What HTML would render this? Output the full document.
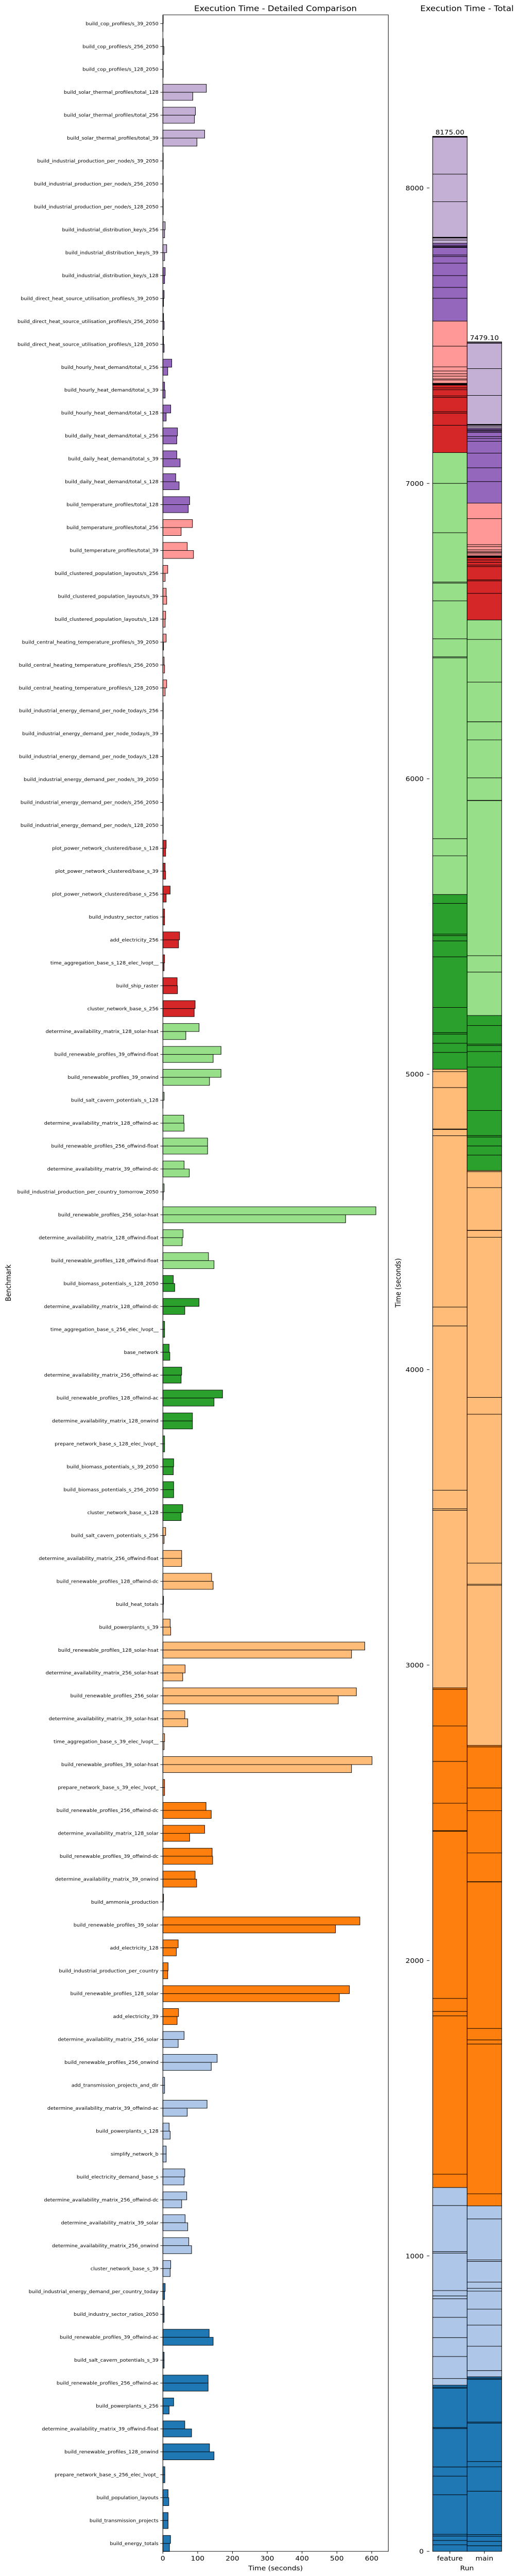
<!DOCTYPE html>
<html>
<head>
<meta charset="utf-8">
<style>
html,body{margin:0;padding:0;background:#fff;width:100%;height:100%;overflow:hidden;}
svg{display:block;position:fixed;left:0;top:0;width:100vw;height:100vh;font-family:"DejaVu Sans","Liberation Sans",sans-serif;}
</style>
</head>
<body>
<svg id="chart" viewBox="0 0 1008 5540" preserveAspectRatio="none" xmlns="http://www.w3.org/2000/svg">
<defs><clipPath id="pageclip"><rect x="0" y="0" width="1008" height="5540"/></clipPath></defs>
<g clip-path="url(#pageclip)">
<rect x="0" y="0" width="1008" height="5540" fill="#fff"/>
<text x="535" y="24" font-size="16.5" text-anchor="middle" fill="#000">Execution Time - Detailed Comparison</text>
<text x="907" y="24" font-size="16.5" text-anchor="middle" fill="#000">Execution Time - Total</text>
<g id="left"></g>
<g id="right"></g>
</g>
</svg>
<script>
const categories = [
"build_cop_profiles/s_39_2050","build_cop_profiles/s_256_2050","build_cop_profiles/s_128_2050",
"build_solar_thermal_profiles/total_128","build_solar_thermal_profiles/total_256","build_solar_thermal_profiles/total_39",
"build_industrial_production_per_node/s_39_2050","build_industrial_production_per_node/s_256_2050","build_industrial_production_per_node/s_128_2050",
"build_industrial_distribution_key/s_256","build_industrial_distribution_key/s_39","build_industrial_distribution_key/s_128",
"build_direct_heat_source_utilisation_profiles/s_39_2050","build_direct_heat_source_utilisation_profiles/s_256_2050","build_direct_heat_source_utilisation_profiles/s_128_2050",
"build_hourly_heat_demand/total_s_256","build_hourly_heat_demand/total_s_39","build_hourly_heat_demand/total_s_128",
"build_daily_heat_demand/total_s_256","build_daily_heat_demand/total_s_39","build_daily_heat_demand/total_s_128",
"build_temperature_profiles/total_128","build_temperature_profiles/total_256","build_temperature_profiles/total_39",
"build_clustered_population_layouts/s_256","build_clustered_population_layouts/s_39","build_clustered_population_layouts/s_128",
"build_central_heating_temperature_profiles/s_39_2050","build_central_heating_temperature_profiles/s_256_2050","build_central_heating_temperature_profiles/s_128_2050",
"build_industrial_energy_demand_per_node_today/s_256","build_industrial_energy_demand_per_node_today/s_39","build_industrial_energy_demand_per_node_today/s_128",
"build_industrial_energy_demand_per_node/s_39_2050","build_industrial_energy_demand_per_node/s_256_2050","build_industrial_energy_demand_per_node/s_128_2050",
"plot_power_network_clustered/base_s_128","plot_power_network_clustered/base_s_39","plot_power_network_clustered/base_s_256",
"build_industry_sector_ratios","add_electricity_256","time_aggregation_base_s_128_elec_lvopt__",
"build_ship_raster","cluster_network_base_s_256","determine_availability_matrix_128_solar-hsat",
"build_renewable_profiles_39_offwind-float","build_renewable_profiles_39_onwind","build_salt_cavern_potentials_s_128",
"determine_availability_matrix_128_offwind-ac","build_renewable_profiles_256_offwind-float","determine_availability_matrix_39_offwind-dc",
"build_industrial_production_per_country_tomorrow_2050","build_renewable_profiles_256_solar-hsat","determine_availability_matrix_128_offwind-float",
"build_renewable_profiles_128_offwind-float","build_biomass_potentials_s_128_2050","determine_availability_matrix_128_offwind-dc",
"time_aggregation_base_s_256_elec_lvopt__","base_network","determine_availability_matrix_256_offwind-ac",
"build_renewable_profiles_128_offwind-ac","determine_availability_matrix_128_onwind","prepare_network_base_s_128_elec_lvopt_",
"build_biomass_potentials_s_39_2050","build_biomass_potentials_s_256_2050","cluster_network_base_s_128",
"build_salt_cavern_potentials_s_256","determine_availability_matrix_256_offwind-float","build_renewable_profiles_128_offwind-dc",
"build_heat_totals","build_powerplants_s_39","build_renewable_profiles_128_solar-hsat",
"determine_availability_matrix_256_solar-hsat","build_renewable_profiles_256_solar","determine_availability_matrix_39_solar-hsat",
"time_aggregation_base_s_39_elec_lvopt__","build_renewable_profiles_39_solar-hsat","prepare_network_base_s_39_elec_lvopt_",
"build_renewable_profiles_256_offwind-dc","determine_availability_matrix_128_solar","build_renewable_profiles_39_offwind-dc",
"determine_availability_matrix_39_onwind","build_ammonia_production","build_renewable_profiles_39_solar",
"add_electricity_128","build_industrial_production_per_country","build_renewable_profiles_128_solar",
"add_electricity_39","determine_availability_matrix_256_solar","build_renewable_profiles_256_onwind",
"add_transmission_projects_and_dlr","determine_availability_matrix_39_offwind-ac","build_powerplants_s_128",
"simplify_network_b","build_electricity_demand_base_s","determine_availability_matrix_256_offwind-dc",
"determine_availability_matrix_39_solar","determine_availability_matrix_256_onwind","cluster_network_base_s_39",
"build_industrial_energy_demand_per_country_today","build_industry_sector_ratios_2050","build_renewable_profiles_39_offwind-ac",
"build_salt_cavern_potentials_s_39","build_renewable_profiles_256_offwind-ac","build_powerplants_s_256",
"determine_availability_matrix_39_offwind-float","build_renewable_profiles_128_onwind","prepare_network_base_s_256_elec_lvopt_",
"build_population_layouts","build_transmission_projects","build_energy_totals"
];
const featureTimes = [
1,1,1, 125,93.5,120, 1,1,1, 6.6,11,6.6, 3.6,2,2, 25.5,5,22.6, 42,40,37, 77,85,70, 14,9.5,8, 9.5,3.6,11,
1,1,1, 1,1,1, 9.5,6.6,21, 5,48,5, 41,92.7,104, 167,167,3.6, 60,128.5,61, 3.6,612,58, 131,30,104,
5,18,54, 171.5,85,5, 31,31,57, 8,54,140, 2,21,580, 64,556,63, 5,601,5, 124,120,141.6, 92.7,2,566,
44,15,536, 45,61,156, 5,127,18, 9.5,63,68.6, 64,74.5,22.6, 6.6,3.6,133, 3.6,130,31, 63,134,5.7, 15,15,22
];
const mainTimes = [
0.5,3,1, 86,90.7,98, 1,1,1, 5,5,5, 2,3.6,3.6, 14,6.6,9.5, 40,49.6,46.7, 73,52.5,88, 6.6,11,6.6, 2,5,6.6,
1,1,1, 1,1,1, 8,8,9.5, 5,45,3.6, 42,90,66, 144.5,134,0.5, 61,128.5,76, 1,525,55.5, 147,34,63,
5,20,52.5, 147,85,5, 30,31,52.5, 3.6,54,144.5, 1,22.6,542, 57,504,71.5, 3.6,542,5, 139,77,143, 97,1,496,
38.7,14,507, 41,44,139, 5,70,21, 9.5,61,54, 71.5,82.5,21, 5,3.6,144.5, 3.6,130,18, 82.5,147,5.7, 17,15,19
];
const runNames = ["feature","main"];
const xTickValues = [0,100,200,300,400,500,600];
const yTotalTickValues = [0,1000,2000,3000,4000,5000,6000,7000,8000];

const palette = ["#c5b0d5","#9467bd","#ff9896","#d62728","#98df8a","#2ca02c","#ffbb78","#ff7f0e","#aec7e8","#1f77b4"];
const groupStarts = [0,11,22,33,44,55,66,77,88,99];
function colorOf(i){ let g=0; for(let k=0;k<groupStarts.length;k++){ if(i>=groupStarts[k]) g=k; } return palette[g]; }

const NS="http://www.w3.org/2000/svg";
function mk(tag, attrs, parent){ const e=document.createElementNS(NS,tag); for(const k in attrs) e.setAttribute(k,attrs[k]); parent.appendChild(e); return e; }

const L = {x0:316.3, x1:754.2, y0:32, y1:5487};
const firstC = 50.7, lastC = 5470;
function xL(v){ return L.x0 + v*(721.9-316.3)/600; }
function yC(i){ return firstC + i*(lastC-firstC)/(categories.length-1); }
const band = (lastC-firstC)/(categories.length-1);
const barH = 0.35*band;
const left = document.getElementById('left');

categories.forEach((name,i)=>{
  const c = yC(i);
  const col = colorOf(i);
  const r1 = mk('rect',{x:xL(0),y:c-barH,width:Math.max(0,xL(featureTimes[i])-xL(0)),height:barH,fill:col,stroke:'#000','stroke-width':1},left);
  
  
  const r2 = mk('rect',{x:xL(0),y:c,width:Math.max(0,xL(mainTimes[i])-xL(0)),height:barH,fill:col,stroke:'#000','stroke-width':1},left);
  
  
  const tk = mk('line',{x1:L.x0-4.9,x2:L.x0,y1:c,y2:c,stroke:'#000','stroke-width':1},left);
  
  
  const t = mk('text',{x:L.x0-8.5,y:c+3.4,'font-size':9.7,'text-anchor':'end',fill:'#000'},left);
  t.textContent = name;
  
  
});
const frame = mk('rect',{x:L.x0,y:L.y0,width:L.x1-L.x0,height:L.y1-L.y0,fill:'none',stroke:'#000','stroke-width':1},left);


xTickValues.forEach(v=>{
  const tk = mk('line',{x1:xL(v),x2:xL(v),y1:L.y1,y2:L.y1+4.9,stroke:'#000','stroke-width':1},left);
  
  
  const t = mk('text',{x:xL(v),y:L.y1+19.5,'font-size':13.9,'text-anchor':'middle',fill:'#000'},left);
  t.textContent = String(v);
  
  
});
const xt = mk('text',{x:(L.x0+L.x1)/2,y:5528,'font-size':13.9,'text-anchor':'middle',fill:'#000'},left);
xt.textContent='Time (seconds)';


const yt = mk('text',{x:0,y:0,'font-size':13.9,'text-anchor':'middle',fill:'#000',transform:'translate(21,2759) rotate(-90)'},left);
yt.textContent='Benchmark';



const right = document.getElementById('right');
const R = {base:5487, pxPerSec:(5487-404.3)/8000};
function yR(v){ return R.base - v*R.pxPerSec; }
const runX = [840.3, 907.3];
const runW = 67;
const runSeries = [featureTimes, mainTimes];
runSeries.forEach((series,ri)=>{
  let acc = 0;
  for(let i=categories.length-1;i>=0;i--){
    const v = series[i];
    const s = mk('rect',{x:runX[ri],y:yR(acc+v),width:runW,height:Math.max(0,yR(acc)-yR(acc+v)),fill:colorOf(i),stroke:'#000','stroke-width':1},right);
    
    
    acc += v;
  }
  const lbl = mk('text',{x:runX[ri]+runW/2,y:yR(acc)-4,'font-size':13.6,'text-anchor':'middle',fill:'#000'},right);
  lbl.textContent = acc.toFixed(2);
  
  
  const tk = mk('line',{x1:runX[ri]+runW/2,x2:runX[ri]+runW/2,y1:R.base,y2:R.base+4.9,stroke:'#000','stroke-width':1},right);
  
  
  const tl = mk('text',{x:runX[ri]+runW/2,y:5507,'font-size':13.9,'text-anchor':'middle',fill:'#000'},right);
  tl.textContent = runNames[ri];
  
  
});
yTotalTickValues.forEach(v=>{
  const tk = mk('line',{x1:829,x2:834,y1:yR(v),y2:yR(v),stroke:'#000','stroke-width':1},right);
  
  
  const t = mk('text',{x:823,y:yR(v)+5,'font-size':13.9,'text-anchor':'end',fill:'#000'},right);
  t.textContent = String(v);
  
  
});
const rx = mk('text',{x:907,y:5528,'font-size':13.9,'text-anchor':'middle',fill:'#000'},right);
rx.textContent='Run';


const ry = mk('text',{x:0,y:0,'font-size':13.9,'text-anchor':'middle',fill:'#000',transform:'translate(778,2759) rotate(-90)'},right);
ry.textContent='Time (seconds)';


</script>
</body>
</html>
